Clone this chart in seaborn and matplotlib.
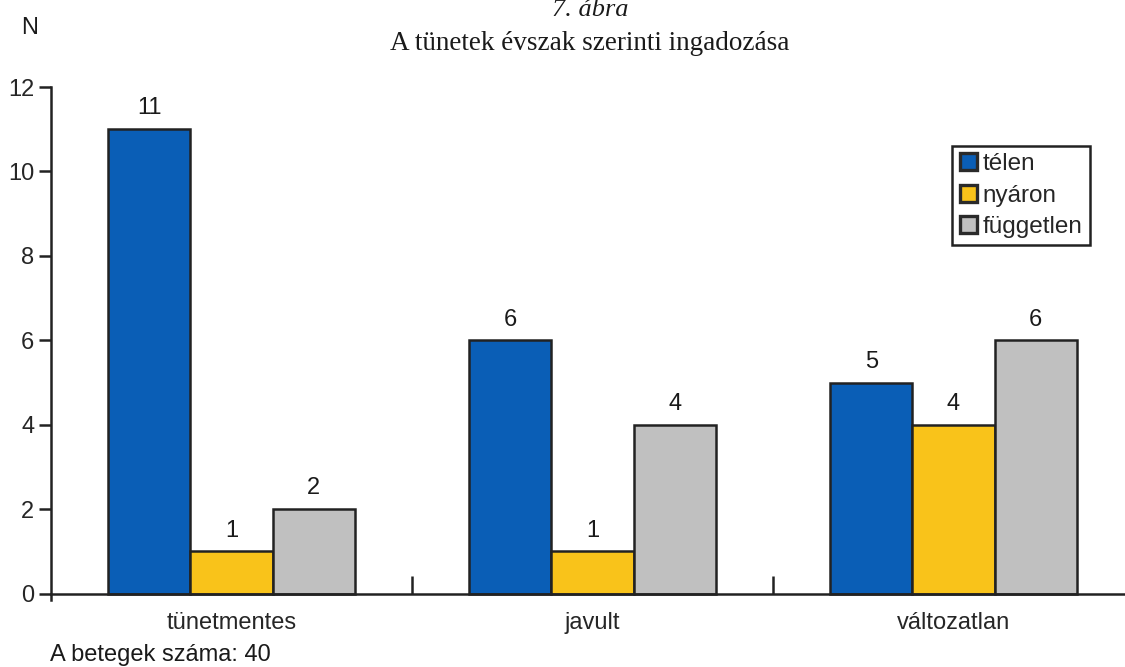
import matplotlib
matplotlib.use("Agg")
import matplotlib.pyplot as plt
import seaborn as sns
import pandas as pd

# Data
kategoriak = ["tünetmentes", "javult", "változatlan"]
evszakok = ["télen", "nyáron", "független"]
telen = [11, 6, 5]
nyaron = [1, 1, 4]
fuggetlen = [2, 4, 6]
szinek = ["#0a5eb6", "#f9c31a", "#c0c0c0"]

df = pd.DataFrame({
    "kategoria": kategoriak * 3,
    "evszak": [evszakok[0]] * 3 + [evszakok[1]] * 3 + [evszakok[2]] * 3,
    "N": telen + nyaron + fuggetlen,
})

sns.set_theme(style="white")
plt.rcParams["font.family"] = ["Liberation Sans", "DejaVu Sans"]

fig = plt.figure(figsize=(11.25, 6.67), dpi=100)
ax = fig.add_axes([51 / 1125, 67 / 667, 1 - 51 / 1125, 513 / 667])

sns.barplot(data=df, x="kategoria", y="N", hue="evszak", order=kategoriak,
            hue_order=evszakok, palette=szinek, saturation=1, width=0.683,
            edgecolor="#222222", linewidth=1.8, ax=ax)

for cont in ax.containers:
    ax.bar_label(cont, padding=7, fontsize=17, color="#1a1a1a")

ax.set_xlim(-0.5, 2.475)
ax.set_ylim(-0.15, 12)
ax.set_yticks([0, 2, 4, 6, 8, 10, 12])
ax.set_xlabel("")
ax.set_ylabel("")

for s in ["top", "right"]:
    ax.spines[s].set_visible(False)
ax.spines["bottom"].set_position(("data", 0))
for s in ["left", "bottom"]:
    ax.spines[s].set_color("#222222")
    ax.spines[s].set_linewidth(1.8)

ax.tick_params(axis="y", direction="out", length=9, width=1.8, color="#222222",
               labelsize=17, pad=3, left=True)
ax.tick_params(axis="x", which="major", length=0, labelsize=17, pad=13)
ax.set_xticks([0.5, 1.5], minor=True)
ax.tick_params(axis="x", which="minor", direction="in", length=13, width=1.8,
               color="#222222", bottom=True)

h, l = ax.get_legend_handles_labels()
if ax.get_legend() is not None:
    ax.get_legend().remove()
for p in h:
    p.set_edgecolor("#2a2a2a")
    p.set_linewidth(2.4)
leg = fig.legend(h, l, loc="upper right", bbox_to_anchor=(1090 / 1125, 1 - 146 / 667),
                 fontsize=17.5, handlelength=0.7, handleheight=0.7, handletextpad=0.25,
                 labelspacing=0.38, borderpad=0.3, borderaxespad=0, fancybox=False,
                 framealpha=1, edgecolor="#222222")
leg.get_frame().set_linewidth(1.8)

fig.text(590 / 1125, 1 - 16 / 667, "7. ábra", ha="center", va="baseline",
         fontsize=19, family="Liberation Serif", style="italic", color="#1a1a1a")
fig.text(590 / 1125, 1 - 50 / 667, "A tünetek évszak szerinti ingadozása",
         ha="center", va="baseline", fontsize=19.5, family="Liberation Serif",
         color="#1a1a1a")
fig.text(30 / 1125, 1 - 28 / 667, "N", ha="center", va="center", fontsize=17,
         color="#1a1a1a")
fig.text(50 / 1125, 1 - 655 / 667, "A betegek száma: 40", ha="left", va="center",
         fontsize=17, color="#1a1a1a")

fig.savefig("out.png", dpi=100)
